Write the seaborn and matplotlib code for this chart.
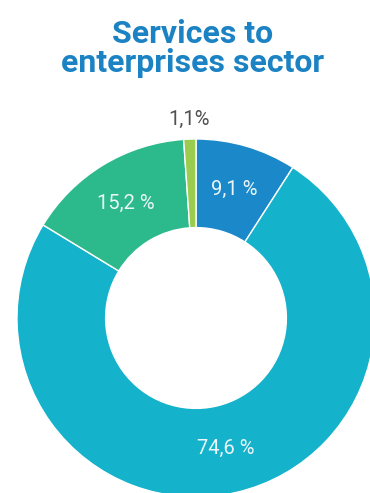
import matplotlib
matplotlib.use("Agg")
import matplotlib.pyplot as plt
import seaborn as sns

sns.set_theme(style="white")
plt.rcParams["font.family"] = ["Roboto", "DejaVu Sans"]

# Share of the sector by segment (percent), clockwise from 12 o'clock
segments = ["Segment A", "Segment B", "Segment C", "Segment D"]
shares = [9.1, 74.6, 15.2, 1.1]
colors = ["#1b89c9", "#14b2cb", "#2cb98c", "#9bcb4f"]
title_lines = ["Services to", "enterprises sector"]

W, H = 370, 493
fig = plt.figure(figsize=(W / 100, H / 100), dpi=100)
fig.patch.set_facecolor("white")

# donut centre and radius in pixels
cx, cy, r = 196, 318, 179
ax = fig.add_axes([(cx - r) / W, (H - cy - r) / H, 2 * r / W, 2 * r / H])


def fmt_pct(p):
    if p < 5:
        return ""
    return f"{p:.1f}".replace(".", ",") + " %"


outer_labels = ["" if s >= 5 else f"{s:.1f}".replace(".", ",") + "%" for s in shares]

wedges, texts, autotexts = ax.pie(
    shares,
    colors=colors,
    startangle=90,
    counterclock=False,
    labels=outer_labels,
    labeldistance=1.11,
    autopct=fmt_pct,
    pctdistance=0.75,
    wedgeprops=dict(width=0.495, edgecolor="white", linewidth=1.0),
)
for t in autotexts:
    t.set_color("#eaf6f9")
    t.set_fontsize(14.5)
    t.set_fontweight("normal")
for t in texts:
    t.set_color("#505050")
    t.set_fontsize(14.5)
    t.set_fontweight("normal")
    t.set_ha("center")
    t.set_va("center")

ax.set_xlim(-1, 1)
ax.set_ylim(-1, 1)
ax.set_aspect("equal")
ax.axis("off")

tx = 193 / W
fig.text(tx, 1 - 43 / H, title_lines[0], ha="center", va="baseline",
         fontsize=23, fontweight="bold", color="#1b82c3")
fig.text(tx, 1 - 72 / H, title_lines[1], ha="center", va="baseline",
         fontsize=23, fontweight="bold", color="#1b82c3")

fig.savefig("out.png", dpi=100, facecolor="white")
